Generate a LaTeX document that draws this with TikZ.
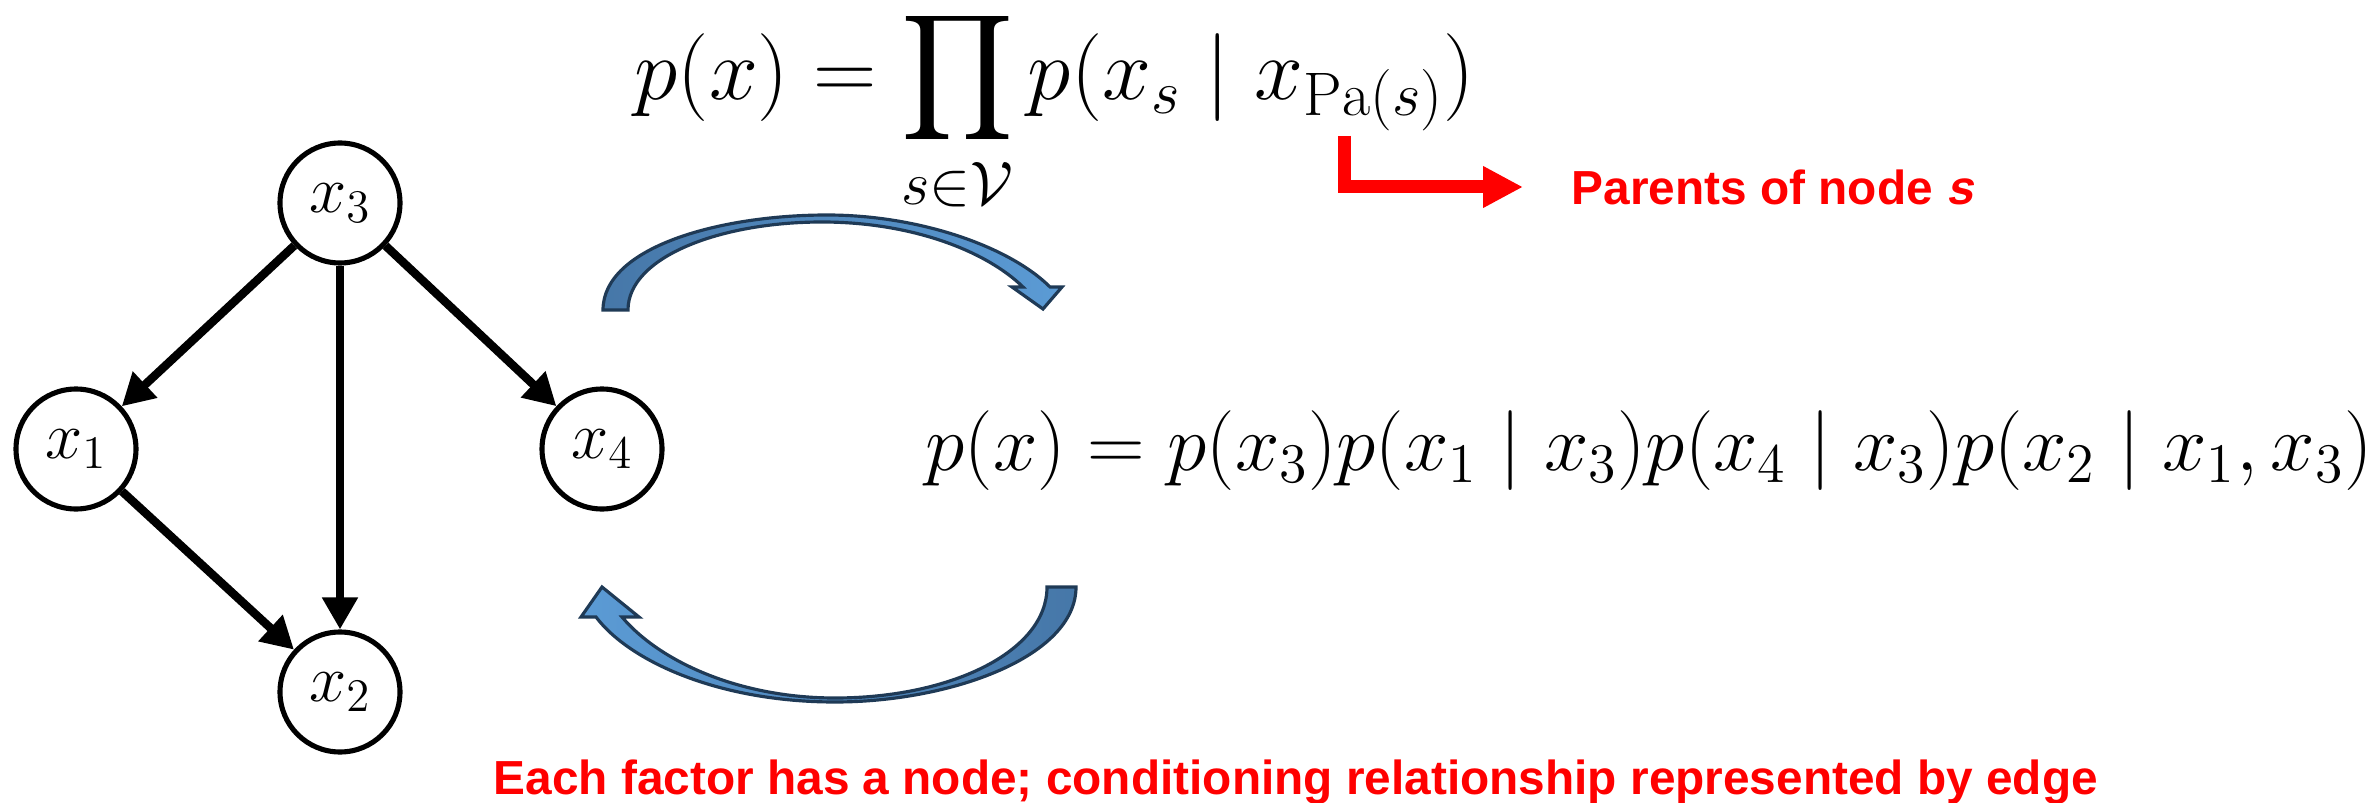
\RequirePackage{fix-cm}
\documentclass[tikz,border=0pt]{standalone}
\usepackage{amsmath,amssymb}
\usepackage{fontspec}
\newfontfamily\notefont{Liberation Sans}
\newfontfamily\noteslant{Liberation Sans}[FakeSlant=0.21]
\usepackage{tikz}
\usetikzlibrary{arrows.meta,shapes.geometric}
\definecolor{Red}{HTML}{FF0000}
\definecolor{ArrowDark}{HTML}{4677A8}
\definecolor{ArrowLight}{HTML}{5B9BD5}
\definecolor{ArrowLine}{HTML}{1F3A56}

\begin{document}
\begin{tikzpicture}[
    var/.style={circle,draw,line width=1.45pt,minimum size=1.2cm,
      inner sep=0pt,font=\fontsize{19}{23}\selectfont},
    edge/.style={line width=2.4pt,-{Triangle[length=0.32cm,width=0.34cm]}},
    formula/.style={inner sep=0pt,anchor=west},
    note/.style={text=Red,inner sep=0pt,
      font=\notefont\fontsize{13.6}{16}\selectfont\bfseries},
    blockarrow/.style={draw=ArrowLine,line width=0.9pt,line join=miter}
  ]
    \useasboundingbox (0,0) rectangle (23.79,8.02);
    % the graph
    \node[var] (x3) at (3.40,5.99) {$x_3$};
    \node[var] (x1) at (0.76,3.53) {$x_1$};
    \node[var] (x4) at (6.02,3.53) {$x_4$};
    \node[var] (x2) at (3.40,1.10) {$x_2$};
    \foreach \a/\b in {x3/x1,x3/x2,x3/x4,x1/x2}
      \draw[edge] (\a) -- (\b);
    % factorisations
    \node[formula,anchor=base west,font=\fontsize{25}{30}\selectfont] (joint)
      at (6.34,7.02)
      {$\displaystyle p(x)=\prod_{\raisebox{0.15cm}[0pt][0pt]{$\scriptstyle s\in\mathcal{V}$}}
       p(x_s\mid x_{\mathrm{Pa}(s)})$};
    \node[formula,font=\fontsize{22.7}{27}\selectfont] (factored) at (9.25,3.51)
      {$p(x)=p(x_3)p(x_1\mid x_3)p(x_4\mid x_3)p(x_2\mid x_1,x_3)$};
    \coordinate (pa) at (13.44,6.66);
    \node[note,anchor=west] (parents) at (15.71,6.15)
      {Parents of node {\noteslant\bfseries s}};
    \draw[Red,line width=0.13cm,-{Triangle[length=0.4cm,width=0.39cm]},
      shorten >=0.48cm] (pa) |- (parents);
    \node[note,anchor=base west] (caption) at (4.93,0.08)
      {Each factor has a node; conditioning relationship represented by edge};
    % curved block arrows
    \shadedraw[blockarrow,left color=ArrowDark,right color=ArrowLight]
      (6.03,4.92) .. controls (6.03,5.55) and (7.2,5.87) .. (8.27,5.87)
      .. controls (9.2,5.87) and (10.1,5.55) .. (10.50,5.15)
      -- (10.62,5.15) -- (10.43,4.93) -- (10.12,5.15) -- (10.23,5.15)
      .. controls (9.85,5.52) and (9.1,5.80) .. (8.22,5.80)
      .. controls (7.2,5.80) and (6.28,5.45) .. (6.28,4.92) -- cycle;
    \shadedraw[blockarrow,left color=ArrowLight,right color=ArrowDark]
      (10.76,2.15) .. controls (10.76,1.45) and (9.5,1.00) .. (8.35,1.00)
      .. controls (7.2,1.00) and (6.3,1.4) .. (5.96,1.85)
      -- (5.81,1.85) -- (6.02,2.15) -- (6.39,1.85) -- (6.22,1.85)
      .. controls (6.6,1.4) and (7.4,1.04) .. (8.35,1.04)
      .. controls (9.5,1.04) and (10.47,1.5) .. (10.47,2.15) -- cycle;
  \end{tikzpicture}
\end{document}
